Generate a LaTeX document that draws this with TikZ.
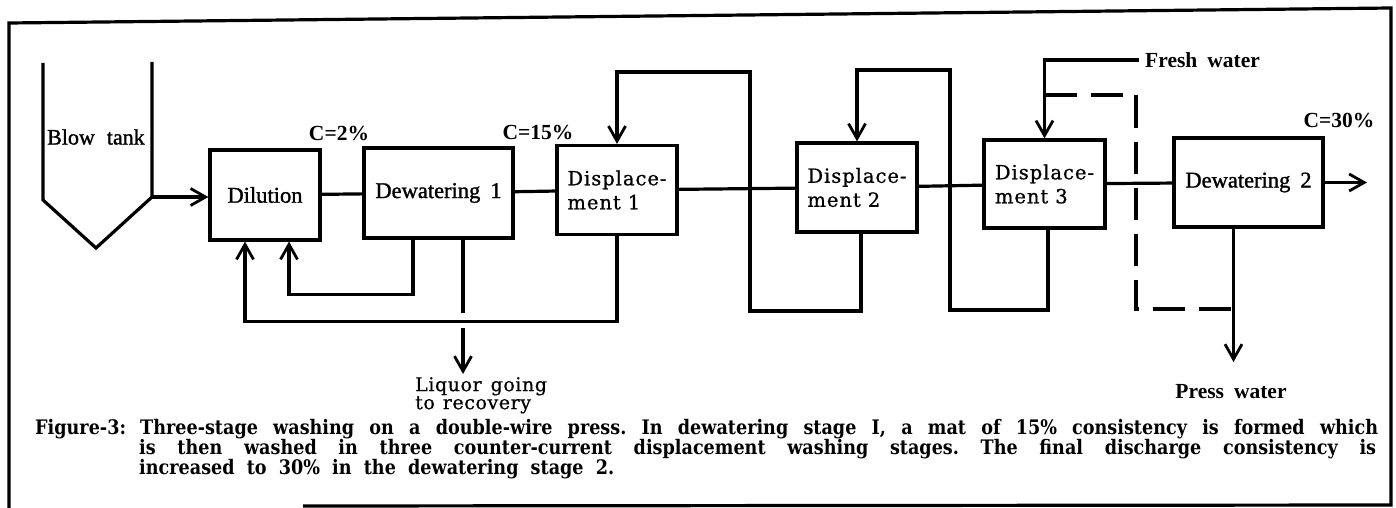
\documentclass[tikz,border=0pt]{standalone}
\usepackage{fontspec}
\setmainfont{Liberation Serif}
\newfontfamily\semiserif{Liberation Serif}[FakeBold=1.3]
\newfontfamily\wideserif{DejaVu Serif}[LetterSpace=5,FakeBold=0.8]
\newfontfamily\liqserif{DejaVu Serif}[LetterSpace=3,FakeBold=0.6]
\newfontfamily\capserif{DejaVu Serif}[FakeStretch=0.88]
\usetikzlibrary{arrows.meta}
\newcommand{\fbx}{\semiserif\fontsize{22.5}{24}\selectfont}
\newcommand{\fdisp}{\wideserif\fontsize{19.5}{24}\selectfont}
\newcommand{\fliq}{\liqserif\fontsize{19}{18}\selectfont}
\newcommand{\flab}{\bfseries\fontsize{21.5}{24}\selectfont}
\newcommand{\fcap}{\capserif\bfseries\fontsize{20}{20}\selectfont\frenchspacing}
\tikzset{
  box/.style={draw, line width=3.2pt, inner sep=0pt, align=center, font=\fbx},
  dbox/.style={draw, line width=3.2pt, inner sep=0pt, align=left, font=\fdisp,
               minimum width=120pt, minimum height=89pt},
  conn/.style={line width=3.2pt},
  arr/.style={line width=3.2pt, -{Straight Barb[length=15pt,width=17pt,line width=2.8pt]}},
  dashline/.style={line width=3.2pt, dash pattern=on 32pt off 14pt},
  lbl/.style={inner sep=0pt},
  captxt/.style={inner sep=0pt, anchor=west, font=\fcap},
}
\begin{document}
\begin{tikzpicture}[x=1pt,y=-1pt]
\useasboundingbox (0,0) rectangle (1396,508);
% frame
\draw[conn] (303,506) -- (1391,505) -- (1391,8) -- (9,23) -- (9,508);

% blow tank
\coordinate (bt) at (152,197);
\draw[conn, line join=miter] (43,63) -- (43,200) -- (96,248) -- (bt) -- (152,62);
\node[lbl, anchor=west, font=\semiserif\fontsize{22}{24}\selectfont] (btl) at (47,137) {Blow\hspace{12pt}tank};

% boxes
\node[box, minimum width=110pt, minimum height=90pt] (dil) at (265,195) {Dilution};
\node[box, minimum width=149pt, minimum height=90pt] (dew1) at (438.5,193) {Dewatering\hspace{10pt}1};
\node[dbox] (dis1) at (617,190) {Displace-\\ment\hspace{7pt}1};
\node[dbox] (dis2) at (857,187.5) {Displace-\\ment\hspace{7pt}2};
\node[dbox, minimum width=121pt, minimum height=88pt] (dis3) at (1044.5,184) {Displace-\\ment\hspace{7pt}3};
\node[box, minimum width=149pt, minimum height=89pt] (dew2) at (1248.5,182.5) {Dewatering\hspace{10pt}2};

% consistency labels
\node[lbl, font=\flab] (c2) at (339,133) {C=2\%};
\node[lbl, font=\flab] (c15) at (538,132) {C=15\%};
\node[lbl, font=\flab] (c30) at (1339,120) {C=30\%};

% main line
\draw[arr] (bt) -- (dil.west |- bt);
\draw[conn] (dil) -- (dew1);
\draw[conn] (dew1) -- (dis1);
\draw[conn] (dis1) -- (dis2);
\draw[conn] (dis2) -- (dis3);
\draw[conn] (dis3) -- (dew2);
\coordinate (out) at (1367,182.5);
\draw[arr] (dew2.east) -- (out);

% recirculation under dilution / dewatering 1
\draw[arr] ([xshift=-25.5pt]dew1.south) -- ++(0,55) -| ([xshift=24pt]dil.south);
\draw[arr] (dis1.south) -- ++(0,85) -| ([xshift=-20pt]dil.south);
\draw[conn] ([xshift=24.5pt]dew1.south) -- ++(0,73);
\coordinate (lqs) at (463,328);
\coordinate (lqe) at (463,374);
\draw[arr] (lqs) -- (lqe);
\node[lbl, anchor=north west, align=left, font=\fliq] (liq) at (415,377) {Liquor\hspace{9pt}going\\to\hspace{8pt}recovery};

% counter-current feedback
\draw[arr] ([xshift=4pt]dis2.south) |- (750,311) -- (750,72) -| (dis1.north);
\draw[arr] ([xshift=3.5pt]dis3.south) |- (950,310) -- (950,70) -| (dis2.north);

% fresh water
\node[lbl, anchor=west, font=\flab] (fw) at (1145,60) {Fresh\hspace{10pt}water};
\draw[arr] ([xshift=-6pt]fw.west) -| (dis3.north);
\draw[dashline] (dis3.north |- 0,95) -| (1136,309) -- ([xshift=-15pt]dew2.south |- 0,309);

% press water
\coordinate (pwt) at (1233.5,362);
\draw[arr] ([xshift=-15pt]dew2.south) -- (pwt);
\node[lbl, font=\flab] (pw) at (1231,392) {Press\hspace{10pt}water};

% caption
\node[captxt] (fig) at (35,429) {Figure-3:};
\node[captxt] (cap1) at (140,429) {\makebox[1238pt][s]{Three-stage washing on a double-wire press. In dewatering stage I, a mat of 15\% consistency is formed which}};
\node[captxt] (cap2) at (139,449) {\makebox[1237pt][s]{is then washed in three counter-current displacement washing stages. The final discharge consistency is}};
\node[captxt] (cap3) at (139,469) {\makebox[475pt][s]{increased to 30\% in the dewatering stage 2.}};
\end{tikzpicture}
\end{document}
